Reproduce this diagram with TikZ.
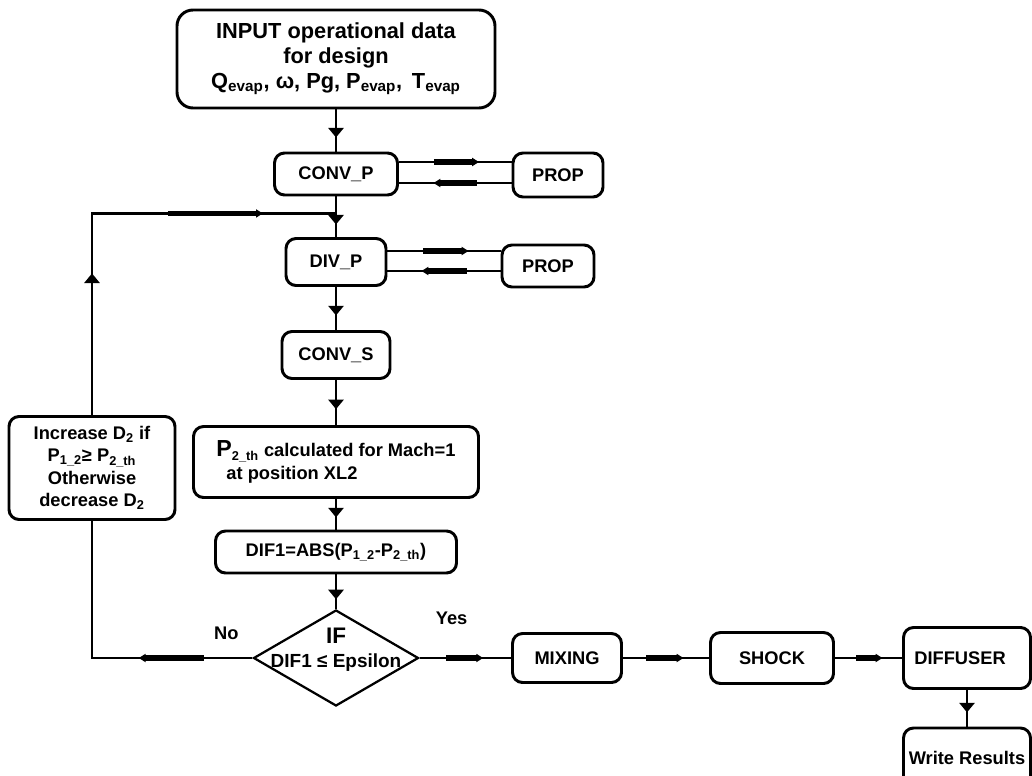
\documentclass[tikz,border=0pt]{standalone}
\usepackage{fontspec}
\setmainfont{Liberation Sans}
\usepackage{tikz}
\usetikzlibrary{shapes.geometric,arrows.meta,decorations.markings}
\tikzstyle{startbox} = [rectangle, rounded corners=0.4cm, minimum width=7.95cm, minimum height=2.45cm, draw=black, line width=2.1pt, align=center, font=\fontsize{15.5}{17.8}\selectfont\bfseries]
\tikzstyle{process} = [rectangle, rounded corners=0.25cm, draw=black, line width=2.1pt, align=center, inner sep=2pt, font=\fontsize{13}{16}\selectfont\bfseries]
\tikzstyle{decision} = [diamond, draw=black, line width=1.6pt, minimum width=4.125cm, minimum height=2.4cm, inner sep=0pt]
\tikzstyle{lbl} = [font=\fontsize{13}{16}\selectfont\bfseries, align=center]
\tikzstyle{line} = [line width=1.9pt]
\tikzset{
  downarr/.style={postaction={decorate, decoration={markings, mark=at position #1 with {\arrow{Triangle[length=0.24cm,width=0.38cm]}}}}},
  flowarr/.style 2 args={postaction={decorate, decoration={markings, mark=at position #1 with {\draw[line width=3.8pt] (-#2,0) -- (-0.12cm,0); \arrow{Triangle[length=0.17cm,width=0.2cm]}}}}}
}
\newcommand{\subtxt}[1]{\textsubscript{#1}}
\begin{document}
\begin{tikzpicture}
\useasboundingbox (0,0) rectangle (25.8,-19.4);
\node (input) [startbox] at (8.4,-1.475) {INPUT operational data\\for design\\Q\subtxt{evap}, ω, Pg, P\subtxt{evap}, \,T\subtxt{evap}};
\node (conv_p) [process, minimum width=3.075cm, minimum height=1.05cm, below of=input, yshift=-1.875cm] {CONV\_P};
\node (prop1) [process, minimum width=2.25cm, minimum height=1.1cm, text depth=-0.1cm, right of=conv_p, xshift=4.55cm, yshift=-0.025cm] {PROP};
\node (div_p) [process, minimum width=2.5cm, minimum height=1.175cm, below of=conv_p, yshift=-1.2cm] {DIV\_P};
\node (prop2) [process, minimum width=2.3cm, minimum height=1.05cm, text depth=-0.1cm, right of=div_p, xshift=4.3cm, yshift=-0.1cm] {PROP};
\node (conv_s) [process, minimum width=2.7cm, minimum height=1.175cm, below of=div_p, yshift=-1.325cm] {CONV\_S};
\node (p2th) [process, minimum width=7.125cm, minimum height=1.775cm, align=left, below of=conv_s, yshift=-1.675cm] {{\fontsize{16.5}{16}\selectfont P}\subtxt{2\_th} calculated for Mach=1\\\hspace*{0.25cm}at position XL2};
\node (incr) [process, minimum width=4.15cm, minimum height=2.575cm, left of=p2th, xshift=-5.1cm, yshift=-0.15cm] {Increase D\subtxt{2} if\\P\subtxt{1\_2}≥ P\subtxt{2\_th}\\Otherwise\\decrease D\subtxt{2}};
\node (dif1) [process, minimum width=6.025cm, minimum height=1.05cm, below of=p2th, yshift=-1.25cm] {DIF1=ABS(P\subtxt{1\_2}-P\subtxt{2\_th})};
\node (ifd) [decision, below of=dif1, yshift=-1.65cm] {};
\node (iftxt) [lbl, font=\fontsize{13.5}{17}\selectfont\bfseries] at ([yshift=0.2cm]ifd.center) {{\fontsize{16}{17}\selectfont IF}\\DIF1 ≤ Epsilon};
\node (nolab) [lbl, left of=ifd, xshift=-1.74cm, yshift=0.625cm] {No};
\node (yeslab) [lbl, right of=ifd, xshift=1.89cm, yshift=1.0cm] {Yes};
\node (mixing) [process, minimum width=2.725cm, minimum height=1.225cm, right of=ifd, xshift=4.775cm] {MIXING};
\node (shock) [process, minimum width=3.075cm, minimum height=1.275cm, right of=mixing, xshift=4.125cm] {SHOCK};
\node (diffuser) [process, minimum width=3.175cm, minimum height=1.525cm, right of=shock, xshift=3.875cm] {DIFFUSER\hspace*{0.35cm}};
\node (write) [process, minimum width=3.175cm, minimum height=1.5cm, below of=diffuser, yshift=-1.5cm] {Write Results};
\coordinate (join) at ([yshift=-0.425cm]conv_p.south);
\draw [line, downarr=0.7cm] (input) -- (conv_p);
\draw [line, downarr=0.7cm] (conv_p) -- (div_p);
\draw [line, downarr=0.71cm] (div_p) -- (conv_s);
\draw [line, downarr=0.73cm] (conv_s) -- (p2th);
\draw [line, downarr=0.46cm] (p2th) -- (dif1);
\draw [line, downarr=0.62cm] (dif1) -- (ifd);
\draw [line, downarr=0.56cm] (diffuser) -- (write);
\draw [line, flowarr={2.0cm}{1.125cm}] ([yshift=0.3cm]conv_p.east) -- ([yshift=0.3cm]conv_p.east -| prop1.west);
\draw [line, flowarr={1.95cm}{1.075cm}] ([yshift=-0.225cm]conv_p.east -| prop1.west) -- ([yshift=-0.225cm]conv_p.east);
\draw [line, flowarr={2.025cm}{1.125cm}] ([yshift=0.275cm]div_p.east) -- ([yshift=0.275cm]div_p.east -| prop2.west);
\draw [line, flowarr={1.975cm}{1.125cm}] ([yshift=-0.225cm]div_p.east -| prop2.west) -- ([yshift=-0.225cm]div_p.east);
\draw [line, flowarr={2.84cm}{1.625cm}] (ifd) -- (incr |- ifd) -- (incr);
\draw [line, downarr=3.54cm, flowarr={9.31cm}{2.375cm}] (incr) -- (incr |- join) -- (join);
\draw [line, flowarr={1.5875cm}{0.925cm}] (ifd) -- (mixing);
\draw [line, flowarr={1.5125cm}{0.925cm}] (mixing) -- (shock);
\draw [line, flowarr={1.1875cm}{0.65cm}] (shock) -- (diffuser);
\end{tikzpicture}
\end{document}
